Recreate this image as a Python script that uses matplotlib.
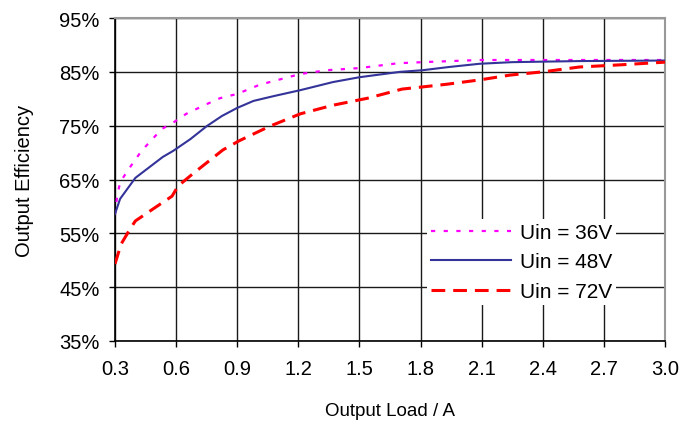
import matplotlib
matplotlib.use("Agg")
import matplotlib.pyplot as plt

# Data
load_36 = [0.30, 0.31, 0.325, 0.374, 0.43, 0.53, 0.575, 0.65, 0.75, 0.815, 0.90, 1.01, 1.14, 1.21, 1.34, 1.50, 1.69, 1.81, 2.09, 2.40, 2.70, 3.00]
eff_36 = [58.5, 61.7, 64.5, 67.3, 70.3, 74.4, 75.3, 77.2, 79.0, 80.1, 80.9, 82.6, 83.9, 84.6, 85.3, 85.7, 86.6, 86.8, 87.2, 87.2, 87.2, 87.2]

load_48 = [0.30, 0.325, 0.40, 0.535, 0.585, 0.67, 0.75, 0.825, 0.90, 0.98, 1.08, 1.21, 1.37, 1.50, 1.70, 1.81, 1.94, 2.09, 2.25, 2.58, 3.00]
eff_48 = [58.6, 61.4, 65.3, 69.2, 70.3, 72.5, 74.9, 76.8, 78.3, 79.6, 80.5, 81.6, 83.1, 84.0, 85.0, 85.3, 85.9, 86.5, 86.8, 87.0, 87.1]

load_72 = [0.30, 0.33, 0.374, 0.40, 0.47, 0.58, 0.61, 0.68, 0.83, 0.91, 1.06, 1.21, 1.37, 1.54, 1.66, 1.71, 1.81, 1.93, 2.09, 2.24, 2.40, 2.58, 2.78, 3.00]
eff_72 = [49.3, 53.0, 55.8, 57.3, 59.1, 61.9, 63.8, 66.0, 70.5, 72.2, 74.9, 77.2, 78.8, 80.1, 81.3, 81.8, 82.2, 82.7, 83.5, 84.4, 85.0, 85.9, 86.3, 86.8]

x_ticks = [0.3, 0.6, 0.9, 1.2, 1.5, 1.8, 2.1, 2.4, 2.7, 3.0]
y_ticks = [35, 45, 55, 65, 75, 85, 95]
labels = ["Uin = 36V", "Uin = 48V", "Uin = 72V"]

plt.rcParams['font.family'] = ["Liberation Sans", "DejaVu Sans"]

fig = plt.figure(figsize=(6.91, 4.31), dpi=100)
ax = fig.add_axes([0.1664, 0.2065, 0.796, 0.7494])

ax.plot(load_36, eff_36, color="#ff00ff", lw=1.6, dashes=(1.9, 3.8), label=labels[0], zorder=3)
ax.plot(load_48, eff_48, color="#333399", lw=1.5, label=labels[1], zorder=3)
ax.plot(load_72, eff_72, color="#ff0000", lw=2.2, dashes=(4.5, 2.6), label=labels[2], zorder=3)

ax.set_xlim(0.3, 3.0)
ax.set_ylim(35, 95)
ax.set_xticks(x_ticks)
ax.set_xticklabels([f"{v:.1f}" for v in x_ticks])
ax.set_yticks(y_ticks)
ax.set_yticklabels([f"{v}%" for v in y_ticks])
ax.grid(True, color="#1a1a1a", lw=1.0)
ax.set_axisbelow(True)
ax.tick_params(axis="both", labelsize=14.5, direction="out", length=4, width=1, colors="black")
ax.tick_params(axis="x", pad=9)
ax.tick_params(axis="y", pad=7)

for s in ["left", "bottom"]:
    ax.spines[s].set_color("black")
    ax.spines[s].set_linewidth(1.2)
for s in ["top", "right"]:
    ax.spines[s].set_color("#999999")
    ax.spines[s].set_linewidth(1.5)

ax.set_xlabel("Output Load / A", fontsize=13.5, labelpad=17)
ax.set_ylabel("Output Efficiency", fontsize=14.5, labelpad=18)

leg = ax.legend(loc="upper left", bbox_to_anchor=(0.567, 0.378), frameon=True, fontsize=15,
                handlelength=3.85, handletextpad=0.4, labelspacing=0.5, borderpad=0.2,
                borderaxespad=0)
leg.get_frame().set_edgecolor("none")
leg.get_frame().set_facecolor("white")
leg.get_frame().set_alpha(1)

fig.savefig("out.png", dpi=100)
